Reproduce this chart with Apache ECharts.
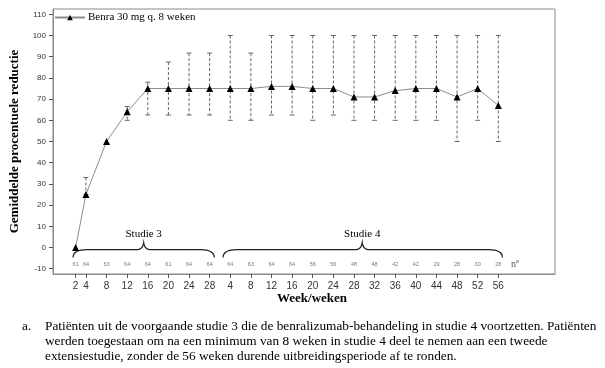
<!DOCTYPE html>
<html>
<head>
<meta charset="utf-8">
<script src="https://cdn.jsdelivr.net/npm/echarts@6/dist/echarts.min.js"></script>
<style>
html,body{margin:0;padding:0;background:#fff;}
#chart{width:605px;height:368px;}
</style>
</head>
<body>
<div id="chart"></div>
<script>
// ---- data ----
const seriesName = 'Benra 30 mg q. 8 weken';
const weeksS3 = [2, 4, 8, 12, 16, 20, 24, 28];
const weeksS4 = [4, 8, 12, 16, 20, 24, 28, 32, 36, 40, 44, 48, 52, 56];
const meanS3 = [0, 25, 50, 64, 75, 75, 75, 75];
const meanS4 = [75, 75, 76, 76, 75, 75, 71, 71, 74, 75, 75, 71, 75, 67];
const lowS3 = [0, 25, 50, 60, 62.5, 62.5, 62.5, 62.5];
const highS3 = [0, 33, 50, 66.5, 78, 87.5, 91.7, 91.7];
const lowS4 = [60, 60, 62.5, 62.5, 60, 62.5, 60, 60, 60, 60, 60, 50, 60, 50];
const highS4 = [100, 91.7, 100, 100, 100, 100, 100, 100, 100, 100, 100, 100, 100, 100];
const nS3 = [61, 64, 63, 64, 64, 61, 64, 64];
const nS4 = [64, 63, 64, 64, 56, 56, 48, 48, 42, 42, 29, 28, 30, 28];
const yTicks = [-10, 0, 10, 20, 30, 40, 50, 60, 70, 80, 90, 100, 110];
const studyLabels = ['Studie 3', 'Studie 4'];
const footnote = [
  'Patiënten uit de voorgaande studie 3 die de benralizumab-behandeling in studie 4 voortzetten. Patiënten',
  'werden toegestaan om na een minimum van 8 weken in studie 4 deel te nemen aan een tweede',
  'extensiestudie, zonder de 56 weken durende uitbreidingsperiode af te ronden.'
];

// ---- layout helpers ----
const S4_OFFSET = 28; // study 4 week w is placed at 28 + w on the continuous axis
const xs = weeksS3.concat(weeksS4.map(w => w + S4_OFFSET));
const means = meanS3.concat(meanS4);
const lows = lowS3.concat(lowS4);
const highs = highS3.concat(highS4);
const ns = nS3.concat(nS4);
const N_ROW_Y = -8;
// brace spans (axis units): start, end, tip
const braces = [
  [1.5, 28.9, 15.2],
  [30.6, 84.8, 57.6]
];
const BRACE_Y = -1;

const serif = 'Liberation Serif, Times New Roman, serif';
const sans = 'Liberation Sans, Arial, sans-serif';

const chart = echarts.init(document.getElementById('chart'), null, {renderer: 'canvas'});

const option = {
  animation: false,
  backgroundColor: '#fff',
  grid: {left: 51, top: 9, right: 50, bottom: 94, show: true, borderColor: '#8a8a8a', borderWidth: 1, backgroundColor: 'transparent'},
  legend: {
    data: [seriesName],
    left: 52, top: 10,
    itemWidth: 30, itemHeight: 7,
    itemGap: 4,
    textStyle: {fontFamily: serif, fontSize: 11, color: '#000', padding: [0, 0, 0, -2]},
    padding: [2, 2, 2, 2]
  },
  xAxis: {
    type: 'value', min: -2.39, max: 95,
    splitLine: {show: false},
    axisLine: {onZero: false, lineStyle: {color: '#8a8a8a'}},
    axisTick: {customValues: xs, length: 4, lineStyle: {color: '#555'}},
    axisLabel: {
      customValues: xs, margin: 7,
      formatter: v => String(v > S4_OFFSET ? v - S4_OFFSET : v),
      fontFamily: sans, fontSize: 10, color: '#333'
    }
  },
  yAxis: {
    type: 'value', min: -12.5, max: 112.5,
    name: 'Gemiddelde procentuele reductie',
    nameLocation: 'middle', nameGap: 32, nameRotate: 90,
    nameTextStyle: {fontFamily: serif, fontWeight: 'bold', fontSize: 13, color: '#000'},
    splitLine: {show: false},
    axisLine: {show: true, onZero: false, lineStyle: {color: '#8a8a8a'}},
    axisTick: {show: true, customValues: yTicks, length: 4, lineStyle: {color: '#555'}},
    axisLabel: {customValues: yTicks, margin: 7, fontFamily: sans, fontSize: 8, color: '#333'}
  },
  graphic: [
    {type: 'text', left: 277, top: 292, style: {text: 'Week/weken', font: 'bold 13px ' + serif, fill: '#000'}},
    {type: 'text', left: 22, top: 320, style: {text: 'a.', font: '13.3px ' + serif, fill: '#000'}},
    {type: 'text', left: 45, top: 320, style: {text: footnote[0], font: '13.3px ' + serif, fill: '#000'}},
    {type: 'text', left: 45, top: 335, style: {text: footnote[1], font: '13.3px ' + serif, fill: '#000'}},
    {type: 'text', left: 45, top: 350, style: {text: footnote[2], font: '13.3px ' + serif, fill: '#000'}}
  ],
  series: [
    {
      type: 'custom', name: 'err', silent: true,
      data: xs.map((x, i) => [x, lows[i], highs[i]]),
      encode: {x: 0, y: [1, 2]},
      renderItem: (params, api) => {
        const x = api.value(0), lo = api.value(1), hi = api.value(2);
        if (lo === hi) return null;
        const a = api.coord([x, hi]), b = api.coord([x, lo]);
        const st = {stroke: '#666', lineWidth: 1};
        return {type: 'group', children: [
          {type: 'line', shape: {x1: a[0], y1: a[1], x2: b[0], y2: b[1]}, style: Object.assign({lineDash: [3, 2]}, st)},
          {type: 'line', shape: {x1: a[0] - 2.5, y1: a[1], x2: a[0] + 2.5, y2: a[1]}, style: st},
          {type: 'line', shape: {x1: b[0] - 2.5, y1: b[1], x2: b[0] + 2.5, y2: b[1]}, style: st}
        ]};
      },
      z: 2
    },
    {
      type: 'line', name: seriesName,
      data: xs.map((x, i) => [x, means[i]]),
      symbol: 'triangle', symbolSize: 7,
      itemStyle: {color: '#000'},
      lineStyle: {color: '#8c8c8c', width: 1},
      z: 3
    },
    {
      type: 'custom', name: 'braces', silent: true,
      data: braces.map((b, i) => [b[0], b[1], b[2], BRACE_Y, i]),
      encode: {x: [0, 1], y: 3},
      renderItem: (params, api) => {
        const s = api.value(0), e = api.value(1), t = api.value(2), y = api.value(3);
        const idx = api.value(4);
        const p1 = api.coord([s, y]), p2 = api.coord([e, y]), pt = api.coord([t, y]);
        const yb = p1[1], x1 = p1[0], x2 = p2[0], xm = pt[0];
        const d = 'M' + x1 + ',' + (yb + 8) +
          ' Q' + x1 + ',' + yb + ' ' + (x1 + 14) + ',' + yb +
          ' L' + (xm - 6) + ',' + yb +
          ' Q' + (xm - 1) + ',' + yb + ' ' + xm + ',' + (yb - 7) +
          ' Q' + (xm + 1) + ',' + yb + ' ' + (xm + 6) + ',' + yb +
          ' L' + (x2 - 14) + ',' + yb +
          ' Q' + x2 + ',' + yb + ' ' + x2 + ',' + (yb + 8);
        return {type: 'group', children: [
          {type: 'path', shape: {pathData: d}, style: {stroke: '#222', lineWidth: 1.2, fill: null}},
          {type: 'text', x: xm, y: yb - 16, style: {text: studyLabels[idx], font: '11px ' + serif, fill: '#000', align: 'center', verticalAlign: 'middle'}}
        ]};
      },
      z: 2
    },
    {
      type: 'scatter', name: 'n', silent: true,
      data: xs.map((x, i) => [x, N_ROW_Y, ns[i]]),
      symbolSize: 0,
      label: {show: true, position: 'inside', formatter: p => String(p.value[2]), fontFamily: sans, fontSize: 5.5, color: '#555'},
      z: 2
    },
    {
      type: 'scatter', name: 'nlabel', silent: true,
      data: [[87.2, N_ROW_Y]],
      symbolSize: 0,
      label: {show: true, position: 'inside', formatter: 'nª', fontFamily: serif, fontSize: 10, color: '#222'},
      z: 2
    }
  ]
};
chart.setOption(option);
</script>
</body>
</html>
